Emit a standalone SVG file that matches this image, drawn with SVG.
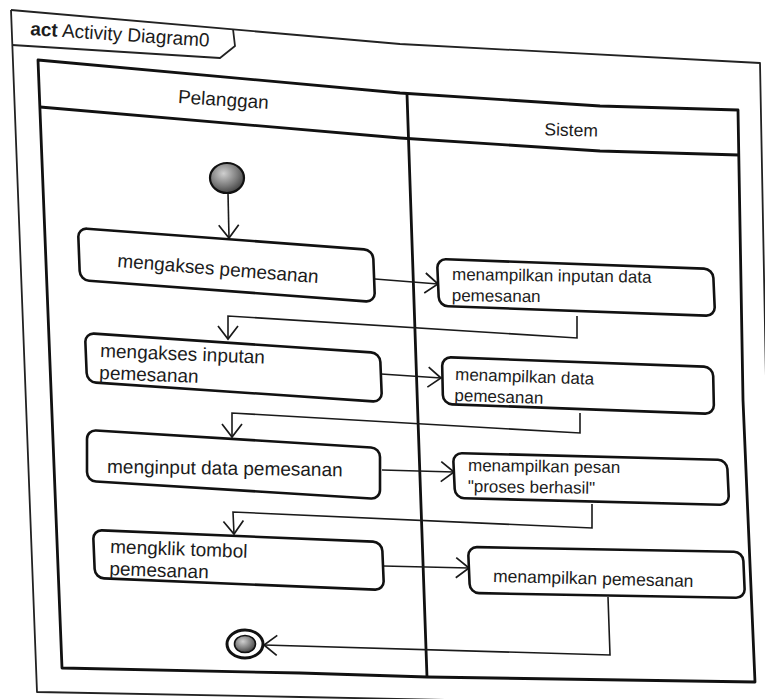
<svg xmlns="http://www.w3.org/2000/svg" width="765" height="699" viewBox="0 0 765 699">
  <defs>
    <style>
      .frame { fill: none; stroke: #222; stroke-width: 1.8; stroke-linejoin: round; }
      .lane { fill: none; stroke: #111; stroke-width: 2.8; stroke-linejoin: round; }
      .node { fill: #fff; stroke: #111; stroke-width: 2.6; }
      .flow { fill: none; stroke: #1a1a1a; stroke-width: 1.6; marker-end: url(#arrow); }
      .t { font-family: "Liberation Sans", Arial, sans-serif; font-size: 19px; fill: #1c1c1c; }
      .s { font-size: 17.5px; }
      .s2 { font-size: 17px; }
    </style>
    <marker id="arrow" viewBox="0 0 16 22" refX="14" refY="11" markerWidth="16" markerHeight="22" markerUnits="userSpaceOnUse" orient="auto">
      <path d="M1,1 L14,11 L1,21" fill="none" stroke="#1a1a1a" stroke-width="1.7"/>
    </marker>
    <radialGradient id="ball" cx="40%" cy="35%" r="70%">
      <stop offset="0" stop-color="#cfcfcf"/>
      <stop offset="0.6" stop-color="#7a7a7a"/>
      <stop offset="1" stop-color="#3c3c3c"/>
    </radialGradient>
  </defs>

  <rect width="765" height="699" fill="#fff"/>

  <!-- diagram frame with its name tab -->
  <g id="frame">
    <path class="frame" d="M11,10 L400,44 L760,63 L772,699"/>
    <path class="frame" d="M11,10 L37,692 L300,697 L500,701"/>
    <path class="frame" d="M12,45 L220,58 L235,46 L233,29"/>
    <text class="t" x="30" y="35" font-size="18" transform="rotate(3.7 30 35)"><tspan font-weight="bold">act</tspan> Activity Diagram0</text>
  </g>

  <!-- swimlanes -->
  <g id="partitions">
    <path class="lane" d="M38,60 L400,93 L600,106 L738,110 L743,400 L755,682 L427,677 L300,673 L62,668 Z"/>
    <path class="lane" d="M40,107 L400,138 L600,151 L739,155"/>
    <path class="lane" d="M407,94 L418,420 L427,677"/>
    <text class="t" x="223" y="106" text-anchor="middle" transform="rotate(3.7 223 106)">Pelanggan</text>
    <text class="t s" x="571" y="136" text-anchor="middle" transform="rotate(1.5 571 136)">Sistem</text>
  </g>

  <!-- control flows -->
  <g id="connectors">
    <path class="flow" d="M228,193 L229,238"/>
    <path class="flow" d="M375,279 L438,284"/>
    <path class="flow" d="M577,316 L577,338 L228,316 L228,339"/>
    <path class="flow" d="M381,374 L441,378"/>
    <path class="flow" d="M580,413 L580,433 L232,413 L232,437"/>
    <path class="flow" d="M382,470 L454,472"/>
    <path class="flow" d="M592,504 L592,528 L233,512 L234,534"/>
    <path class="flow" d="M383,566 L469,568"/>
    <path class="flow" d="M608,597 L610,655 L264,645"/>
  </g>

  <g id="start">
    <ellipse cx="227" cy="178" rx="17" ry="15" fill="url(#ball)" stroke="#111" stroke-width="2.2"/>
  </g>

  <g id="n1">
    <rect class="node" x="0" y="0" width="295" height="52" rx="9" vector-effect="non-scaling-stroke" transform="matrix(1 0.0746 0.0385 1 78 228)"/>
    <text class="t" x="117" y="267" transform="rotate(4.6 117 267)">mengakses pemesanan</text>
  </g>

  <g id="n2">
    <rect class="node" x="0" y="0" width="295" height="49" rx="9" vector-effect="non-scaling-stroke" transform="matrix(1 0.0678 0.041 1 85 333)"/>
    <text class="t" transform="rotate(2.3 100 357)"><tspan x="100" y="357">mengakses inputan</tspan><tspan x="100" y="379">pemesanan</tspan></text>
  </g>

  <g id="n3">
    <rect class="node" x="0" y="0" width="293" height="51" rx="9" vector-effect="non-scaling-stroke" transform="matrix(1 0.0614 0 1 87 430)"/>
    <text class="t" x="107" y="473" transform="rotate(0.8 107 473)">menginput data pemesanan</text>
  </g>

  <g id="n4">
    <rect class="node" x="0" y="0" width="289" height="48" rx="9" vector-effect="non-scaling-stroke" transform="matrix(1 0.0415 0.042 1 93 530)"/>
    <text class="t" transform="rotate(2 110 553)"><tspan x="110" y="553">mengklik tombol</tspan><tspan x="110" y="575">pemesanan</tspan></text>
  </g>

  <g id="s1">
    <rect class="node" x="0" y="0" width="276" height="47" rx="9" vector-effect="non-scaling-stroke" transform="matrix(1 0.0362 0.044 1 437 259)"/>
    <text class="t s2" transform="rotate(0.8 452 280)"><tspan x="452" y="280">menampilkan inputan data</tspan><tspan x="452" y="301">pemesanan</tspan></text>
  </g>

  <g id="s2">
    <rect class="node" x="0" y="0" width="271" height="47" rx="9" vector-effect="non-scaling-stroke" transform="matrix(1 0.0369 0.022 1 442 357)"/>
    <text class="t s2" transform="rotate(1.9 455 380)"><tspan x="455" y="380">menampilkan  data</tspan><tspan x="455" y="401">pemesanan</tspan></text>
  </g>

  <g id="s3">
    <rect class="node" x="0" y="0" width="274" height="45" rx="9" vector-effect="non-scaling-stroke" transform="matrix(1 0.0255 0.047 1 453 453)"/>
    <text class="t s2" transform="rotate(0.8 468 471)"><tspan x="468" y="471">menampilkan pesan</tspan><tspan x="468" y="492">"proses berhasil"</tspan></text>
  </g>

  <g id="s4">
    <rect class="node" x="0" y="0" width="275" height="46" rx="9" vector-effect="non-scaling-stroke" transform="matrix(1 0.018 0.043 1 468 547)"/>
    <text class="t s" x="493" y="582" transform="rotate(1.4 493 582)">menampilkan pemesanan</text>
  </g>

  <g id="end">
    <ellipse cx="245" cy="644" rx="18" ry="14" fill="#fff" stroke="#111" stroke-width="3"/>
    <ellipse cx="245" cy="644" rx="10.5" ry="8.5" fill="url(#ball)" stroke="#111" stroke-width="1.6"/>
  </g>
</svg>
